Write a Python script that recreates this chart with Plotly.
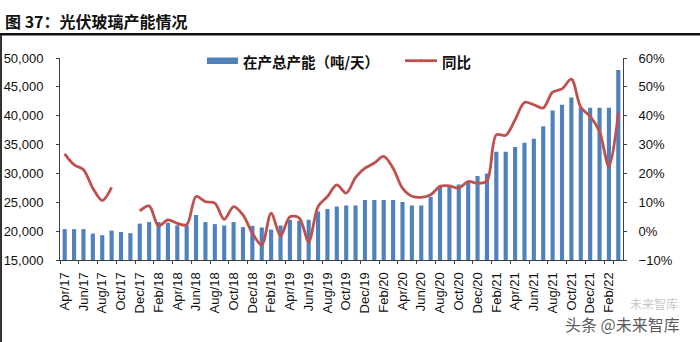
import plotly.graph_objects as go

months = ["Apr/17","May/17","Jun/17","Jul/17","Aug/17","Sep/17","Oct/17","Nov/17","Dec/17",
          "Jan/18","Feb/18","Mar/18","Apr/18","May/18","Jun/18","Jul/18","Aug/18","Sep/18","Oct/18","Nov/18","Dec/18",
          "Jan/19","Feb/19","Mar/19","Apr/19","May/19","Jun/19","Jul/19","Aug/19","Sep/19","Oct/19","Nov/19","Dec/19",
          "Jan/20","Feb/20","Mar/20","Apr/20","May/20","Jun/20","Jul/20","Aug/20","Sep/20","Oct/20","Nov/20","Dec/20",
          "Jan/21","Feb/21","Mar/21","Apr/21","May/21","Jun/21","Jul/21","Aug/21","Sep/21","Oct/21","Nov/21","Dec/21",
          "Jan/22","Feb/22","Mar/22"]

capacity = [20350,20350,20350,19580,19300,20100,19850,19650,21300,21570,
            21570,21450,21000,21000,22800,21570,21220,20980,21570,20700,
            20920,20630,20280,20980,21970,21790,21970,23410,23830,24270,
            24460,24460,25400,25400,25400,25400,25050,24460,24460,25970,
            27660,27770,28070,28640,29550,29980,33760,33760,34560,35330,
            36030,38170,40900,41880,43170,41360,41360,41360,41360,47920]

yoy = [26.8,23.0,21.3,14.9,10.6,15.2,None,None,7.0,8.75,
       1.8,3.9,2.7,2.2,12.0,10.2,9.7,4.1,8.5,5.6,
       -0.7,-4.8,6.2,-1.7,5.0,4.5,-3.6,8.5,12.0,16.0,
       13.2,18.6,21.8,23.6,25.9,21.8,14.9,12.1,11.7,12.6,
       15.5,15.7,14.9,17.2,16.6,17.4,33.4,33.2,38.6,44.6,
       43.8,42.7,48.2,49.3,52.7,42.9,39.8,34.5,22.4,40.9]

tick_labels = months[::2]
title_text = "图 37：光伏玻璃产能情况"
bar_name = "在产总产能（吨/天）"
line_name = "同比"

W, H = 700, 342
L, R, T, B = 60, 623, 58, 260

def px(x):
    return (x - L) / (R - L)

def py(y):
    return (B - y) / (B - T)

BLUE = "#4F81BD"
RED = "#C0504D"
AX = "#404040"
FONT = "Liberation Sans, Arial, sans-serif"
CJK = "Noto Sans CJK SC, sans-serif"

fig = go.Figure()
fig.add_trace(go.Bar(x=months, y=capacity, name=bar_name, marker=dict(color=BLUE, line=dict(width=0)),
                     yaxis="y", showlegend=False))
fig.add_trace(go.Scatter(x=months, y=yoy, name=line_name, mode="lines",
                         line=dict(color=RED, width=2.8, shape="spline", smoothing=0.9),
                         connectgaps=False, yaxis="y2", showlegend=False))

shapes = []
annotations = []

# title underline and left border
shapes.append(dict(type="line", xref="paper", yref="paper", x0=px(0), x1=px(700), y0=py(34.3), y1=py(34.3),
                   line=dict(color="#111111", width=2.5)))
shapes.append(dict(type="line", xref="paper", yref="paper", x0=px(1), x1=px(1), y0=py(35), y1=py(342),
                   line=dict(color="#333333", width=2)))

annotations.append(dict(text="<b>" + title_text + "</b>", xref="paper", yref="paper", x=px(3), y=py(21),
                        xanchor="left", yanchor="middle", showarrow=False,
                        font=dict(family=CJK, size=16, color="#111111")))

# legend
shapes.append(dict(type="rect", xref="paper", yref="paper", x0=px(207), x1=px(238), y0=py(64), y1=py(57.5),
                   fillcolor=BLUE, line=dict(width=0)))
annotations.append(dict(text="<b>" + bar_name + "</b>", xref="paper", yref="paper", x=px(241), y=py(61.5),
                        xanchor="left", yanchor="middle", showarrow=False,
                        font=dict(family=CJK, size=14.5, color="#111111")))
shapes.append(dict(type="line", xref="paper", yref="paper", x0=px(405), x1=px(437), y0=py(60.7), y1=py(60.7),
                   line=dict(color=RED, width=2.8)))
shapes.append(dict(type="circle", xref="paper", yref="paper", x0=px(419.5), x1=px(422.5), y0=py(62.2), y1=py(59.2),
                   fillcolor=RED, line=dict(width=0)))
annotations.append(dict(text="<b>" + line_name + "</b>", xref="paper", yref="paper", x=px(440), y=py(61.5),
                        xanchor="left", yanchor="middle", showarrow=False,
                        font=dict(family=CJK, size=14.5, color="#111111")))

# watermark
annotations.append(dict(text="头条 @未来智库", xref="paper", yref="paper", x=px(563), y=py(324),
                        xanchor="left", yanchor="middle", showarrow=False,
                        font=dict(family=CJK, size=16, color="rgba(60,60,60,0.85)")))
annotations.append(dict(text="未来智库", xref="paper", yref="paper", x=px(628), y=py(303),
                        xanchor="left", yanchor="middle", showarrow=False,
                        font=dict(family=CJK, size=12, color="rgba(120,120,120,0.45)")))

fig.update_layout(
    template="none",
    width=W, height=H,
    margin=dict(l=L, r=W - R, t=T, b=H - B, pad=0),
    paper_bgcolor="white", plot_bgcolor="white",
    bargap=0.56,
    shapes=shapes, annotations=annotations,
    xaxis=dict(type="category", range=[-0.5, len(months) - 0.5], tickvals=tick_labels, ticktext=tick_labels,
               tickangle=-90, tickfont=dict(family=FONT, size=13, color="#111111"),
               showline=True, linecolor=AX, linewidth=1, ticks="outside", ticklen=3, tickcolor=AX,
               tickson="boundaries", showgrid=False, zeroline=False, automargin=False, ticklabelstandoff=6),
    yaxis=dict(range=[15000, 50000], dtick=5000, tickformat=",", showgrid=False, zeroline=False,
               showline=True, linecolor=AX, linewidth=1, ticks="outside", ticklen=3, tickcolor=AX,
               tickfont=dict(family=FONT, size=13, color="#111111"), automargin=False, ticklabelstandoff=10),
    yaxis2=dict(range=[-10, 60], dtick=10, ticksuffix="%", overlaying="y", side="right", showgrid=False,
                zeroline=False, showline=True, linecolor=AX, linewidth=1, ticks="outside", ticklen=3,
                tickcolor=AX, tickfont=dict(family=FONT, size=13, color="#111111"), automargin=False,
                ticklabelstandoff=9),
)

fig.write_html("out.html")
